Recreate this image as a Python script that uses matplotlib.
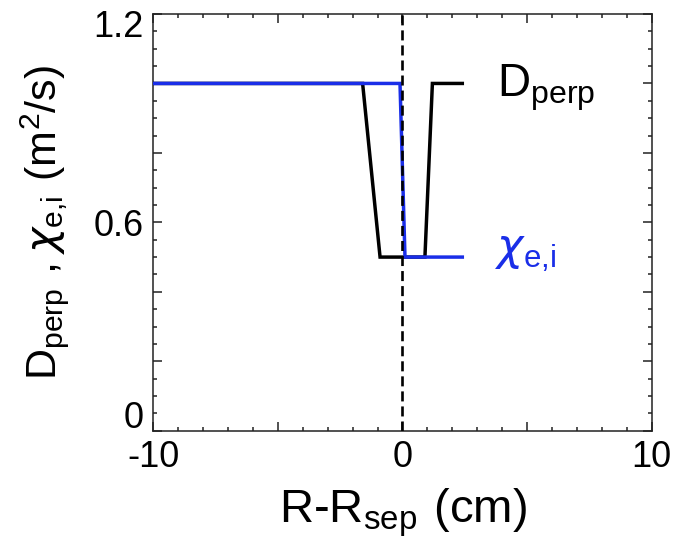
import matplotlib
matplotlib.use("Agg")
import matplotlib.pyplot as plt
from matplotlib.ticker import MultipleLocator, FixedLocator
from matplotlib.transforms import ScaledTranslation

plt.rcParams['font.family'] = ['Liberation Sans', 'DejaVu Sans']
plt.rcParams['mathtext.fontset'] = 'custom'
plt.rcParams['mathtext.rm'] = 'Liberation Sans'
plt.rcParams['mathtext.it'] = 'DejaVu Sans:italic'
plt.rcParams['mathtext.bf'] = 'Liberation Sans:bold'

# data
d_x = [-10, -1.6, -0.9, 0.9, 1.2, 2.4]
d_y = [1.0, 1.0, 0.5, 0.5, 1.0, 1.0]
chi_x = [-10, -0.1, 0.1, 2.4]
chi_y = [1.0, 1.0, 0.5, 0.5]
sep_x = 0.0
xticks = [-10, -5, 0, 5, 10]
xtick_labels = ['-10', '', '0', '', '10']
ylabel_values = {0.0: '0', 0.6: '0.6', 1.2: '1.2'}

BLUE = '#1a2ee8'

fig = plt.figure(figsize=(6.8, 5.38), dpi=100)
ax = fig.add_axes([0.2254, 0.1994, 0.7330, 0.7746])

ax.plot(d_x, d_y, color='black', lw=2.5, solid_joinstyle='miter', zorder=3)
ax.plot(chi_x, chi_y, color=BLUE, lw=2.5, solid_joinstyle='miter', zorder=4)
ax.axvline(sep_x, color='black', lw=1.9, ls=(0, (3.8, 1.9)), zorder=5)

ax.set_xlim(-10, 10)
ax.set_ylim(0, 1.2)

ax.xaxis.set_major_locator(FixedLocator(xticks))
ax.set_xticklabels(xtick_labels)
ax.xaxis.set_minor_locator(MultipleLocator(1))
ax.yaxis.set_major_locator(MultipleLocator(0.2))
labs = []
for v in ax.get_yticks():
    lab = ''
    for k, s in ylabel_values.items():
        if abs(v - k) < 1e-9:
            lab = s
    labs.append(lab)
ax.set_yticklabels(labs)
ax.yaxis.set_minor_locator(MultipleLocator(0.05))

ax.tick_params(which='both', direction='in', top=True, right=True, width=1.1,
               labelsize=26, color='#222222')
ax.tick_params(which='major', length=6.5, pad=7)
ax.tick_params(which='minor', length=3)
for s in ax.spines.values():
    s.set_linewidth(1.1)
    s.set_color('#222222')

# shift end labels to match reference placement
for lab in ax.get_yticklabels():
    t = lab.get_text()
    if t == '0':
        lab.set_transform(lab.get_transform() + ScaledTranslation(0, 0.16, fig.dpi_scale_trans))
    elif t == '1.2':
        lab.set_transform(lab.get_transform() + ScaledTranslation(0, -0.10, fig.dpi_scale_trans))

ax.set_xlabel(r'$\mathregular{R\text{-}R_{sep}\ (cm)}$', fontsize=34, labelpad=8)
ax.set_ylabel(r'$\mathregular{D_{perp}\ ,\mathit{\chi}_{e{,}i}\ (m^2/s)}$', fontsize=31, labelpad=16)

ax.text(3.79, 0.963, r'$\mathregular{D_{perp}}$', fontsize=33, color='black',
        ha='left', va='baseline')
ax.text(3.71, 0.49, r'$\mathregular{\mathit{\chi}_{e{,}i}}$', fontsize=32, color=BLUE,
        ha='left', va='baseline')

fig.savefig('out.png', dpi=100)
